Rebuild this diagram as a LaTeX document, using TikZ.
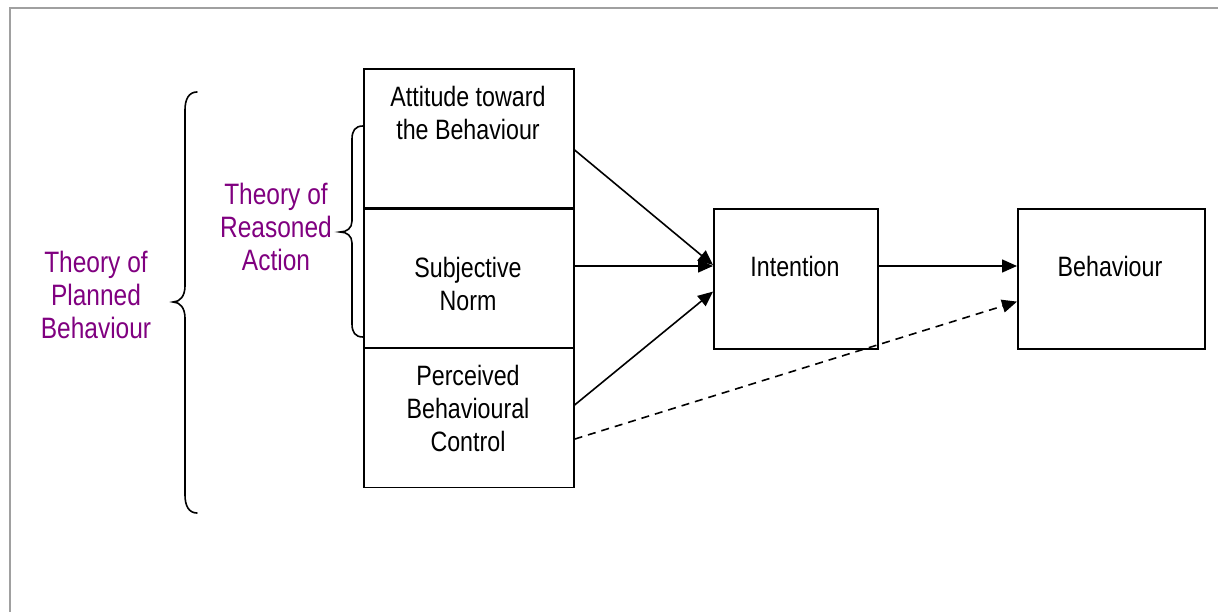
\documentclass[tikz,border=0pt]{standalone}
\usepackage{fontspec}
\setmainfont{Liberation Sans}[FakeStretch=0.83]
\usetikzlibrary{arrows.meta}
\definecolor{tpurple}{RGB}{128,0,128}
\definecolor{framegray}{RGB}{160,160,160}
\begin{document}
\begin{tikzpicture}[x=1pt,y=-1pt,
  box/.style={draw=black,line width=1.6pt,minimum width=210pt,minimum height=139.5pt,inner sep=0pt,anchor=north west},
  txt/.style={align=center,font=\fontsize{28}{33}\selectfont,inner sep=0pt},
  ptxt/.style={align=center,font=\fontsize{29.5}{33}\selectfont,inner sep=0pt,text=tpurple},
  conn/.style={line width=1.6pt,-{Triangle[length=15pt,width=13pt]}},
  dconn/.style={conn,dash pattern=on 8pt off 6pt},
  bracestyle/.style={line width=1.6pt,line cap=round}]
\useasboundingbox (0,0) rectangle (1218,612);
\draw[framegray,line width=2pt] (1230,8) -- (10,8) -- (10,630);

% boxes
\node[box] (att) at (363,68) {};
\node[box] (sub) at (363,208) {};
\node[box] (pbc) at (363,347) {};
\node[box,minimum width=164pt,minimum height=140pt] (int) at (713,208) {};
\node[box,minimum width=187pt,minimum height=140pt] (beh) at (1017,208) {};

% texts
\node[txt] (atttxt) at (468,113) {Attitude toward\\the Behaviour};
\node[txt] (subtxt) at (468,284) {Subjective\\Norm};
\node[txt] (pbctxt) at (468,408) {Perceived\\Behavioural\\Control};
\node[txt] (inttxt) at (795,266) {Intention};
\node[txt] (behtxt) at (1110,266) {Behaviour};
\node[ptxt] (tra) at (276,227) {Theory of\\Reasoned\\Action};
\node[ptxt] (tpb) at (96,295) {Theory of\\Planned\\Behaviour};

% connectors
\draw[conn] ([yshift=-82pt]att.north east) -- ([yshift=-57pt]int.north west);
\draw[conn] ([yshift=-58pt]sub.north east) -- ([yshift=-58pt]int.north west);
\draw[conn] ([yshift=-58pt]pbc.north east) -- ([yshift=58pt]int.south west);
\draw[conn] ([yshift=-58pt]int.north east) -- ([yshift=-58pt]beh.north west);
\draw[dconn] ([yshift=49pt]pbc.south east) -- ([yshift=48pt]beh.south west);

% braces
\draw[bracestyle] (363,126) .. controls (355,126) and (352,131) .. (352,139) -- (352,221)
  .. controls (352,228) and (347,232) .. (340,232)
  .. controls (347,232) and (352,236) .. (352,243) -- (352,324)
  .. controls (352,332) and (355,337) .. (363,337);
\draw[bracestyle] (197,92) .. controls (189,92) and (185,99) .. (185,110) -- (185,286)
  .. controls (185,296) and (180,302) .. (173,302)
  .. controls (180,302) and (185,308) .. (185,318) -- (185,495)
  .. controls (185,506) and (189,513) .. (197,513);
\end{tikzpicture}
\end{document}
